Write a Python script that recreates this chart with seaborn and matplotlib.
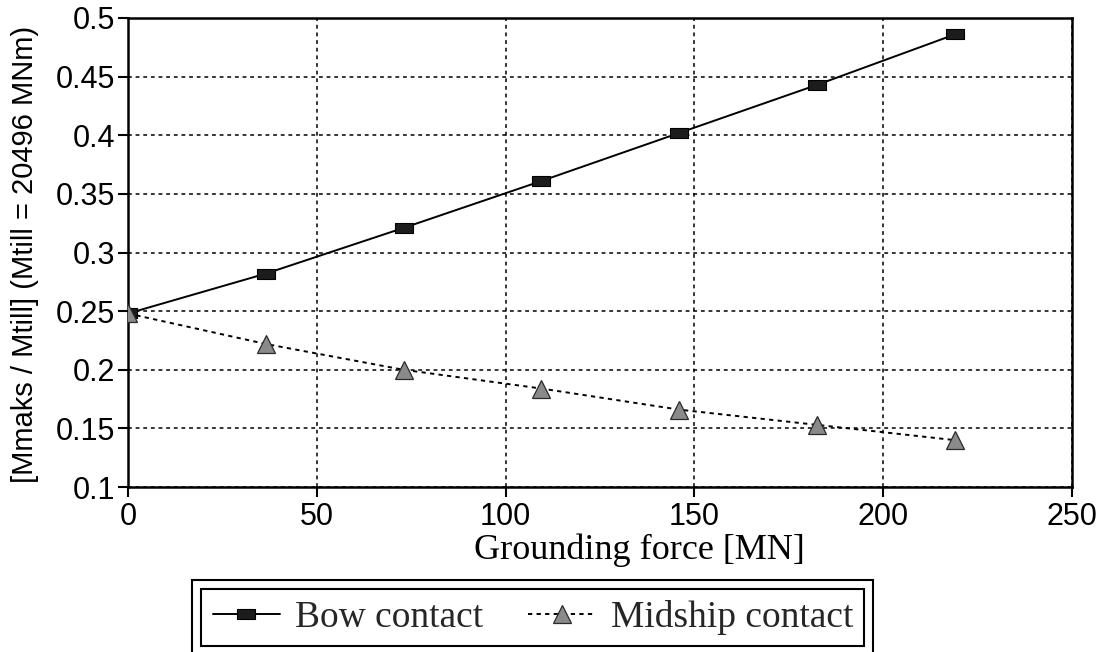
import matplotlib
matplotlib.use("Agg")
import matplotlib.pyplot as plt
import seaborn as sns
import pandas as pd
from matplotlib.patches import Rectangle

# ---- data ----
force = [0, 36.5, 73, 109.5, 146, 182.5, 219]
bow_contact = [0.248, 0.282, 0.321, 0.361, 0.402, 0.443, 0.486]
midship_contact = [0.248, 0.222, 0.200, 0.184, 0.166, 0.153, 0.140]
series_names = ["Bow contact", "Midship contact"]
x_ticks = [0, 50, 100, 150, 200, 250]
y_ticks = [0.1, 0.15, 0.2, 0.25, 0.3, 0.35, 0.4, 0.45, 0.5]
y_tick_labels = ["0.1", "0.15", "0.2", "0.25", "0.3", "0.35", "0.4", "0.45", "0.5"]
x_label = "Grounding force [MN]"
y_label = "[Mmaks / Mtill] (Mtill = 20496 MNm)"

sns.set_theme(style="white")
plt.rcParams['font.family'] = ['Liberation Sans', 'DejaVu Sans']

df = pd.DataFrame({
    "force": force + force,
    "value": bow_contact + midship_contact,
    "series": [series_names[0]] * len(force) + [series_names[1]] * len(force),
})

fig = plt.figure(figsize=(11.08, 6.52), dpi=100)
ax = fig.add_axes([0.1155, 0.253, 0.852, 0.7194])

rect_marker = [(-1, -0.5), (1, -0.5), (1, 0.5), (-1, 0.5), (-1, -0.5)]

sns.lineplot(data=df[df["series"] == series_names[0]], x="force", y="value",
             ax=ax, color="black", linewidth=1.4, marker=rect_marker,
             markersize=13, markerfacecolor="#1c1c1c", markeredgecolor="black",
             markeredgewidth=0.8, estimator=None, sort=False,
             label=series_names[0], legend=False, zorder=3)
sns.lineplot(data=df[df["series"] == series_names[1]], x="force", y="value",
             ax=ax, color="black", linewidth=1.4, linestyle=(0, (2.2, 2.2)),
             marker="^", markersize=13, markerfacecolor="#8a8a8a",
             markeredgecolor="#2a2a2a", markeredgewidth=0.9, estimator=None,
             sort=False, label=series_names[1], legend=False, zorder=4)

ax.set_xlim(0, 250)
ax.set_ylim(0.1, 0.5)
ax.set_xticks(x_ticks)
ax.set_xticklabels([str(t) for t in x_ticks])
ax.set_yticks(y_ticks)
ax.set_yticklabels(y_tick_labels)

ax.grid(True, color="black", linestyle=(0, (2.5, 2.5)), linewidth=1.1)
ax.set_axisbelow(True)
for s in ax.spines.values():
    s.set_visible(True)
    s.set_color("black")
    s.set_linewidth(1.8)

ax.tick_params(axis="both", which="major", direction="out", length=7, width=1.5,
               colors="black", labelsize=22, bottom=True, left=True,
               top=False, right=False)
ax.tick_params(axis="x", pad=4)
ax.tick_params(axis="y", pad=2)

ax.set_xlabel(x_label, fontsize=26, family=["Liberation Serif", "DejaVu Serif"],
              color="black")
ax.xaxis.set_label_coords(0.542, -0.1)
ax.set_ylabel(y_label, fontsize=21, color="black")
ax.yaxis.set_label_coords(-0.094, 0.495)

handles, labels = ax.get_legend_handles_labels()
leg = fig.legend(handles, labels, loc="center",
                 bbox_to_anchor=(0.481, 0.053), ncol=2, frameon=True,
                 prop={"family": ["Liberation Serif", "DejaVu Serif"], "size": 27},
                 handlelength=1.8, handletextpad=0.4, columnspacing=1.2,
                 borderpad=0.3, borderaxespad=0, fancybox=False)
frame = leg.get_frame()
frame.set_edgecolor("black")
frame.set_linewidth(1.5)
frame.set_alpha(1)

fig.canvas.draw()
bb = leg.get_window_extent().transformed(fig.transFigure.inverted())
padx = 9 / 1108
pady = 9 / 652
fig.patches.append(Rectangle((bb.x0 - padx, bb.y0 - pady),
                             bb.width + 2 * padx, bb.height + 2 * pady,
                             transform=fig.transFigure, fill=False,
                             edgecolor="black", linewidth=1.5))

fig.savefig("out.png", dpi=100, facecolor="white")
